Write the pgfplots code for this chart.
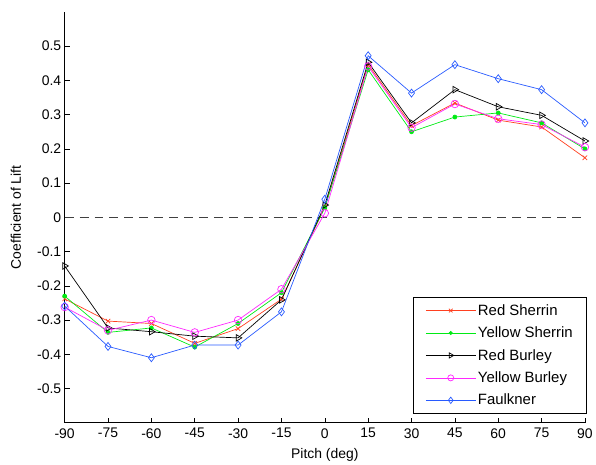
\documentclass[border=0pt]{standalone}
\usepackage{pgfplots}
\pgfplotsset{compat=1.18}
\usepackage{fontspec}
\setmainfont{Liberation Sans}
\definecolor{cred}{RGB}{255,64,32}
\definecolor{cgreen}{RGB}{0,235,20}
\definecolor{cmag}{RGB}{255,40,255}
\definecolor{cblue}{RGB}{40,90,255}
\begin{document}
\begin{tikzpicture}
\begin{axis}[
  scale only axis,
  width=523pt, height=413pt,
  xmin=-90, xmax=90, ymin=-0.6, ymax=0.6,
  axis x line*=bottom, axis y line*=left,
  axis line style={-, black, line width=0.6pt},
  xtick={-90,-75,...,90},
  ytick={-0.5,-0.4,...,0.5},
  yticklabels={-0.5,-0.4,-0.3,-0.2,-0.1,0,0.1,0.2,0.3,0.4,0.5},
  tick align=inside,
  major tick length=5pt,
  tick style={black, line width=0.6pt},
  font=\fontsize{14}{17}\selectfont,
  ticklabel style={font=\fontsize{14}{17}\selectfont},
  xticklabel style={yshift=-2pt},
  /pgf/number format/assume math mode=true,
  xlabel={Pitch (deg)}, ylabel={Coefficient of Lift},
  xlabel style={at={(axis description cs:0.5,0)}, anchor=center, yshift=-32pt},
  ylabel style={at={(axis description cs:0,0.5)}, anchor=center, yshift=49pt},
  legend style={at={(axis description cs:1.004,0.022)}, anchor=south east,
    draw=black, line width=0.6pt, font=\fontsize{15}{18}\selectfont,
    row sep=6.2pt, inner xsep=12pt, inner ysep=5pt, fill=white},
  legend cell align=left,
  legend image code/.code={\draw (0pt,0pt) -- (50pt,0pt); \draw[only marks, scale=0.8] plot coordinates {(31.25pt,0pt)};},
  every axis plot/.append style={line width=0.7pt},
]
\addplot[black!75, dash pattern=on 9pt off 6pt, line width=0.8pt, forget plot] coordinates {(-90,0) (90,0)};
\addplot[cred, mark=x, mark size=3.2pt] coordinates {
(-90,-0.238) (-75,-0.303) (-60,-0.31) (-45,-0.368) (-30,-0.325) (-15,-0.239) (0,0.03)
(15,0.446) (30,0.268) (45,0.334) (60,0.284) (75,0.264) (90,0.174)};
\addlegendentry{Red Sherrin}
\addplot[cgreen, mark=*, mark size=2pt] coordinates {
(-90,-0.23) (-75,-0.336) (-60,-0.323) (-45,-0.379) (-30,-0.31) (-15,-0.22) (0,0.028)
(15,0.431) (30,0.25) (45,0.293) (60,0.305) (75,0.276) (90,0.20)};
\addlegendentry{Yellow Sherrin}
\addplot[black, mark=triangle, mark options={rotate=-90}, mark size=3.8pt] coordinates {
(-90,-0.142) (-75,-0.323) (-60,-0.334) (-45,-0.347) (-30,-0.352) (-15,-0.241) (0,0.036)
(15,0.453) (30,0.276) (45,0.373) (60,0.323) (75,0.298) (90,0.223)};
\addlegendentry{Red Burley}
\addplot[cmag, mark=o, mark size=3.8pt] coordinates {
(-90,-0.262) (-75,-0.33) (-60,-0.30) (-45,-0.336) (-30,-0.30) (-15,-0.21) (0,0.012)
(15,0.441) (30,0.262) (45,0.331) (60,0.288) (75,0.271) (90,0.205)};
\addlegendentry{Yellow Burley}
\addplot[cblue, mark=diamond, mark size=4pt] coordinates {
(-90,-0.259) (-75,-0.377) (-60,-0.41) (-45,-0.373) (-30,-0.373) (-15,-0.276) (0,0.053)
(15,0.472) (30,0.363) (45,0.446) (60,0.405) (75,0.373) (90,0.276)};
\addlegendentry{Faulkner}
\path (rel axis cs:0,0) ++(-65pt,-41pt) coordinate (bl);
\path (rel axis cs:1,1) ++(8pt,12pt) coordinate (tr);
\end{axis}
\path (bl) rectangle (tr);
\end{tikzpicture}
\end{document}
